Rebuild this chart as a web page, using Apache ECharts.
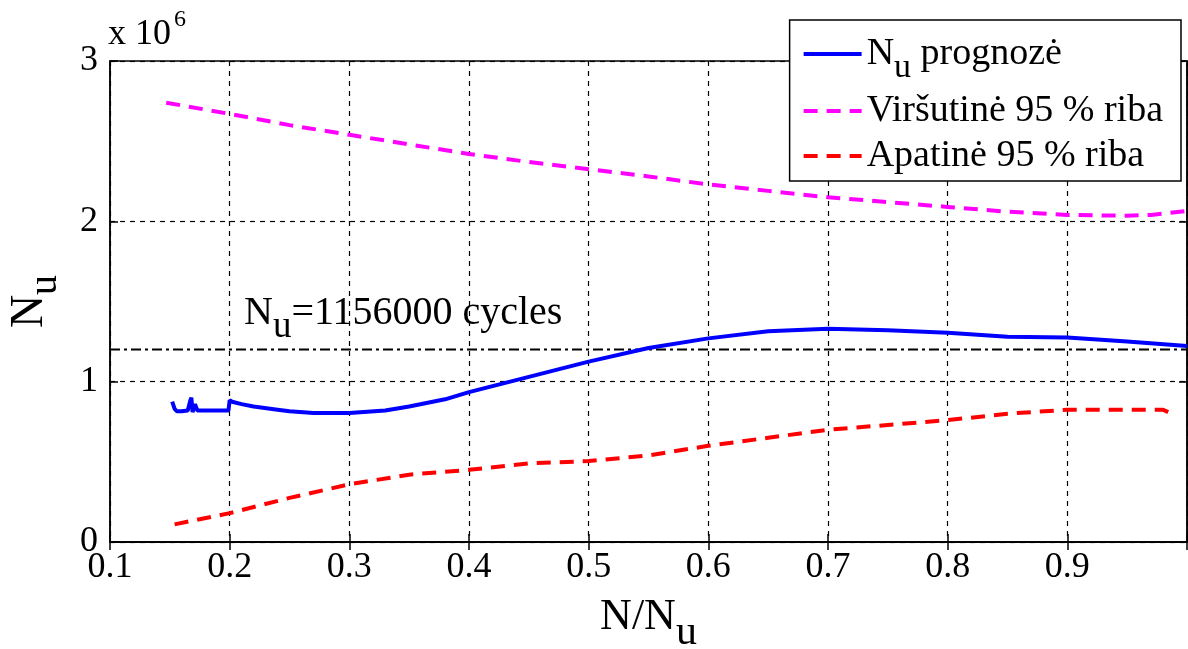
<!DOCTYPE html>
<html>
<head>
<meta charset="utf-8">
<script src="https://cdn.jsdelivr.net/npm/echarts@6/dist/echarts.min.js"></script>
<style>
  html, body { margin: 0; padding: 0; background: #fff; }
  #chart { width: 1188px; height: 649px; }
</style>
</head>
<body>
<div id="chart"></div>
<script>
// N/Nu ašis ir vertės (x 10^6), nuskaityta nuo paveikslo
var progX = [0.152, 0.154, 0.156, 0.160, 0.165, 0.167, 0.168, 0.169, 0.171, 0.173, 0.180, 0.190, 0.199, 0.200, 0.202,
             0.21, 0.22, 0.24, 0.25, 0.27, 0.30, 0.33, 0.35, 0.38, 0.40, 0.45, 0.50, 0.55, 0.60, 0.65, 0.70,
             0.75, 0.80, 0.85, 0.90, 0.95, 1.00];
var progY = [0.875, 0.83, 0.815, 0.815, 0.82, 0.88, 0.90, 0.81, 0.86, 0.82, 0.82, 0.82, 0.82, 0.885, 0.875,
             0.86, 0.845, 0.825, 0.815, 0.805, 0.805, 0.82, 0.845, 0.89, 0.935, 1.03, 1.125, 1.21, 1.27, 1.315, 1.33,
             1.32, 1.305, 1.28, 1.275, 1.25, 1.222];

var upperX = [0.147, 0.20, 0.25, 0.30, 0.35, 0.40, 0.45, 0.50, 0.55, 0.60, 0.65, 0.70, 0.75, 0.80, 0.85, 0.90, 0.95, 0.97, 1.00];
var upperY = [2.74, 2.67, 2.60, 2.54, 2.48, 2.42, 2.37, 2.325, 2.28, 2.23, 2.19, 2.15, 2.12, 2.09, 2.06, 2.04, 2.035, 2.04, 2.065];

var lowerX = [0.154, 0.20, 0.25, 0.30, 0.35, 0.40, 0.45, 0.50, 0.55, 0.60, 0.65, 0.70, 0.75, 0.80, 0.85, 0.90, 0.95, 0.98, 0.99];
var lowerY = [0.11, 0.18, 0.275, 0.36, 0.42, 0.45, 0.49, 0.505, 0.54, 0.60, 0.65, 0.70, 0.73, 0.76, 0.80, 0.825, 0.825, 0.825, 0.79];

var nuLine = 1.2; // brūkšninė-taškinė linija
var xTicks = [0.1, 0.2, 0.3, 0.4, 0.5, 0.6, 0.7, 0.8, 0.9, 1.0];
var yTicks = [0, 1, 2, 3];

var SCALE = 1e6;
var FONT = 'Liberation Serif';

function pairs(xs, ys) {
  var out = [];
  for (var i = 0; i < xs.length; i++) out.push([xs[i], ys[i] * SCALE]);
  return out;
}

var chart = echarts.init(document.getElementById('chart'));

var option = {
  backgroundColor: '#fff',
  animation: false,
  textStyle: { fontFamily: FONT, color: '#000' },
  grid: {
    left: 110, right: 1, top: 61, bottom: 107,
    outerBoundsMode: 'none', containLabel: false,
    show: true, borderColor: '#000', borderWidth: 1.5, backgroundColor: 'transparent'
  },
  legend: {
    data: ['prog', 'upper', 'lower'],
    orient: 'vertical',
    right: 7, top: 20,
    backgroundColor: '#fff',
    borderColor: '#000', borderWidth: 1.5,
    padding: [3, 18, 6, 12],
    itemGap: 7,
    itemWidth: 58, itemHeight: 16,
    itemStyle: { opacity: 0 },
    lineStyle: { width: 4 },
    formatter: function (name) {
      if (name === 'prog') return '{a|N}{s|u}{a| prognozė}';
      if (name === 'upper') return '{a|Viršutinė 95 % riba}';
      return '{a|Apatinė 95 % riba}';
    },
    textStyle: {
      fontFamily: FONT, color: '#000',
      rich: {
        a: { fontFamily: FONT, fontSize: 38, color: '#000', lineHeight: 42 },
        s: { fontFamily: FONT, fontSize: 34, color: '#000', padding: [28, 0, 0, 0], lineHeight: 42 }
      }
    }
  },
  xAxis: [{
    type: 'value', min: 0.1, max: 1.0, interval: 0.1,
    name: '{a|N/N}{s|u}', nameLocation: 'middle', nameGap: 38,
    nameTextStyle: {
      rich: {
        a: { fontFamily: FONT, fontSize: 44, color: '#000' },
        s: { fontFamily: FONT, fontSize: 42, color: '#000', padding: [32, 0, 0, 0] }
      }
    },
    axisLine: { show: true, lineStyle: { color: '#000', width: 1.5 } },
    axisTick: { show: true, inside: true, length: 8, lineStyle: { color: '#000', width: 1.5 } },
    axisLabel: {
      fontFamily: FONT, fontSize: 36, color: '#000', margin: 8,
      formatter: function (v) { return Math.abs(v - 1) < 1e-9 ? '' : v.toFixed(1); }
    },
    splitLine: { show: true, lineStyle: { color: '#000', type: [5, 5], width: 1.2 } }
  }, {
    type: 'value', min: 0.1, max: 1.0, interval: 0.1, position: 'top',
    axisLine: { show: true, lineStyle: { color: '#000', width: 1.5 } },
    axisTick: { show: true, inside: true, length: 8, lineStyle: { color: '#000', width: 1.5 } },
    axisLabel: { show: false }, splitLine: { show: false }
  }],
  yAxis: [{
    type: 'value', min: 0, max: 3 * SCALE, interval: SCALE,
    name: '{a|N}{s|u}', nameLocation: 'middle', nameGap: 45, nameRotate: 90,
    nameTextStyle: {
      rich: {
        a: { fontFamily: FONT, fontSize: 46, color: '#000' },
        s: { fontFamily: FONT, fontSize: 40, color: '#000', padding: [30, 0, 0, 0] }
      }
    },
    axisLine: { show: true, lineStyle: { color: '#000', width: 1.5 } },
    axisTick: { show: true, inside: true, length: 8, lineStyle: { color: '#000', width: 1.5 } },
    axisLabel: {
      fontFamily: FONT, fontSize: 36, color: '#000', margin: 12,
      formatter: function (v) { return String(v / SCALE); }
    },
    splitLine: { show: true, lineStyle: { color: '#000', type: [5, 5], width: 1.2 } }
  }, {
    type: 'value', min: 0, max: 3 * SCALE, interval: SCALE, position: 'right',
    axisLine: { show: true, lineStyle: { color: '#000', width: 1.5 } },
    axisTick: { show: true, inside: true, length: 8, lineStyle: { color: '#000', width: 1.5 } },
    axisLabel: { show: false }, splitLine: { show: false }
  }],
  graphic: [{
    type: 'text', left: 108, top: 8,
    style: { text: '{a|x 10}{p|6}', rich: {
      a: { fontFamily: FONT, fontSize: 36, fill: '#000', padding: [12, 0, 0, 0] },
      p: { fontFamily: FONT, fontSize: 24, fill: '#000', padding: [0, 0, 18, 3] }
    } }
  }, {
    type: 'text', left: 244, top: 293,
    style: { text: '{a|N}{s|u}{a|=1156000 cycles}', rich: {
      a: { fontFamily: FONT, fontSize: 40, fill: '#000' },
      s: { fontFamily: FONT, fontSize: 37, fill: '#000', padding: [28, 0, 0, 0] }
    } }
  }],
  series: [
    {
      name: 'ref', type: 'line', showSymbol: false, symbol: 'none', silent: true,
      data: [[0.1, nuLine * SCALE], [1.0, nuLine * SCALE]],
      lineStyle: { color: '#000', width: 2, type: [10, 4, 3, 4] }, z: 1
    },
    {
      name: 'prog', type: 'line', symbol: 'none', data: pairs(progX, progY),
      color: '#0000ff', lineStyle: { color: '#0000ff', width: 4 }, z: 3
    },
    {
      name: 'upper', type: 'line', symbol: 'none', data: pairs(upperX, upperY),
      color: '#ff00ff', lineStyle: { color: '#ff00ff', width: 4, type: [14, 9] }, z: 2
    },
    {
      name: 'lower', type: 'line', symbol: 'none', data: pairs(lowerX, lowerY),
      color: '#ff0000', lineStyle: { color: '#ff0000', width: 4, type: [14, 9] }, z: 2
    }
  ]
};

chart.setOption(option);
</script>
</body>
</html>
